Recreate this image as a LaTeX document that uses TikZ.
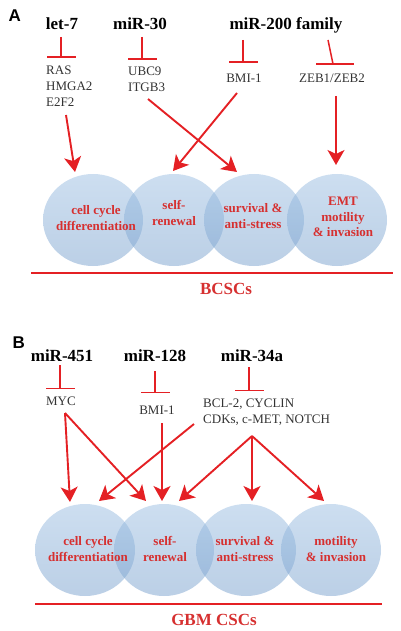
\documentclass[tikz,border=0pt]{standalone}
\usepackage{fontspec}
\setmainfont{Liberation Serif}
\newfontfamily\labfont{Liberation Sans}
\usetikzlibrary{arrows.meta,shapes.geometric}
\definecolor{ared}{RGB}{228,32,36}
\definecolor{tred}{RGB}{214,48,48}
\definecolor{ctop}{RGB}{155,190,226}
\definecolor{cbot}{RGB}{120,160,205}
\tikzset{
  panel/.style={font=\labfont\bfseries\fontsize{17}{17}\selectfont, anchor=base west},
  mir/.style={font=\bfseries\fontsize{17}{17}\selectfont, anchor=base},
  tgt/.style={font=\fontsize{13}{16}\selectfont, text=black!80, anchor=base, inner sep=0pt},
  tgtl/.style={tgt, anchor=base west, align=left},
  cell/.style={ellipse, top color=ctop, bottom color=cbot, fill opacity=0.5, draw=none, minimum width=100pt, minimum height=92pt, inner sep=0pt},
  clab/.style={font=\bfseries\fontsize{13}{15.5}\selectfont, text=tred, align=center},
  inh/.style={draw=ared, line width=1.5pt, -{Bar[width=29pt,line width=1.5pt]}},
  inhline/.style={draw=ared, line width=1.5pt},
  act/.style={draw=ared, line width=1.9pt, -{Stealth[length=15pt,width=17pt,inset=4pt]}},
  base/.style={draw=ared, line width=2pt},
  grp/.style={font=\bfseries\fontsize{17}{17}\selectfont, text=tred, anchor=base},
}
\begin{document}
\begin{tikzpicture}[x=1pt,y=-1pt]
\useasboundingbox (0,0) rectangle (400,631);
% ---------------- Panel A ----------------
\node[panel] (pA) at (5,22) {A};
\node[mir] (let7) at (62,30) {let-7};
\node[mir] (mir30) at (140,30) {miR-30};
\node[mir] (mir200) at (286,30) {miR-200 family};
\node[tgtl] (t1) at (46,107) {RAS\\HMGA2\\E2F2};
\node[tgtl] (t2) at (128,92) {UBC9\\ITGB3};
\node[tgt] (t3) at (244,83) {BMI-1};
\node[tgt] (t4) at (332,83) {ZEB1/ZEB2};
% inhibition
\coordinate (i1a) at (61,37); \coordinate (i1b) at (61,58);
\coordinate (i2a) at (142,37); \coordinate (i2b) at (142,60);
\coordinate (i3a) at (243,40); \coordinate (i3b) at (243,63);
\coordinate (i4a) at (328,40); \coordinate (i4b) at (333,64);
\coordinate (i4l) at (316,64); \coordinate (i4r) at (354,64);
\draw[inh] (i1a) -- (i1b);
\draw[inh] (i2a) -- (i2b);
\draw[inh] (i3a) -- (i3b);
\draw[inhline] (i4a) -- (i4b);
\draw[inhline] (i4l) -- (i4r);
% circles
\node[cell] (a1) at (93,220) {};
\node[cell] (a2) at (174,220) {};
\node[cell] (a3) at (254,220) {};
\node[cell] (a4) at (337,220) {};
\node[clab] (la1) at (96,218) {cell cycle\\differentiation};
\node[clab] (la2) at (174,213) {self-\\renewal};
\node[clab] (la3) at (253,216) {survival \&\\anti-stress};
\node[clab] (la4) at (343,217) {EMT\\motility\\\& invasion};
% activation arrows
\coordinate (s1) at (66,115); \coordinate (e1) at (75,172);
\coordinate (s2) at (148,99); \coordinate (e2) at (237,172);
\coordinate (s3) at (237,93); \coordinate (e3) at (173,171);
\coordinate (s4) at (336,96); \coordinate (e4) at (336,165);
\draw[act] (s1) -- (e1);
\draw[act] (s2) -- (e2);
\draw[act] (s3) -- (e3);
\draw[act] (s4) -- (e4);
\coordinate (bl1) at (31,273); \coordinate (br1) at (393,273);
\draw[base] (bl1) -- (br1);
\node[grp] (bcsc) at (226,294) {BCSCs};
% ---------------- Panel B ----------------
\node[panel] (pB) at (9,348) {B};
\node[mir] (mir451) at (62,361) {miR-451};
\node[mir] (mir128) at (155,361) {miR-128};
\node[mir] (mir34) at (252,361) {miR-34a};
\node[tgt] (myc) at (61,405) {MYC};
\node[tgt] (bmi) at (157,414) {BMI-1};
\node[tgtl] (bcl) at (203,423) {BCL-2, CYCLIN\\CDKs, c-MET, NOTCH};
\coordinate (j1a) at (60,365); \coordinate (j1b) at (60,389);
\coordinate (j2a) at (155,371); \coordinate (j2b) at (155,393);
\coordinate (j3a) at (249,367); \coordinate (j3b) at (249,391);
\draw[inh] (j1a) -- (j1b);
\draw[inh] (j2a) -- (j2b);
\draw[inh] (j3a) -- (j3b);
% circles
\node[cell] (b1) at (85,550) {};
\node[cell] (b2) at (164,550) {};
\node[cell] (b3) at (246,550) {};
\node[cell] (b4) at (331,550) {};
\node[clab] (lb1) at (88,549) {cell cycle\\differentiation};
\node[clab] (lb2) at (165,549) {self-\\renewal};
\node[clab] (lb3) at (245,549) {survival \&\\anti-stress};
\node[clab] (lb4) at (336,549) {motility\\\& invasion};
% arrows
\coordinate (myca) at (65,413);
\coordinate (f1) at (70,502); \coordinate (f2) at (146,501);
\coordinate (bmia) at (162,423); \coordinate (f3) at (162,501);
\coordinate (cdka) at (194,424); \coordinate (f4) at (99,501);
\coordinate (bcla) at (252,436);
\coordinate (f5) at (179,501); \coordinate (f6) at (252,501); \coordinate (f7) at (324,501);
\draw[act] (myca) -- (f1);
\draw[act] (myca) -- (f2);
\draw[act] (bmia) -- (f3);
\draw[act] (cdka) -- (f4);
\draw[act] (bcla) -- (f5);
\draw[act] (bcla) -- (f6);
\draw[act] (bcla) -- (f7);
\coordinate (bl2) at (35,604); \coordinate (br2) at (382,604);
\draw[base] (bl2) -- (br2);
\node[grp] (gbm) at (214,625) {GBM CSCs};
\end{tikzpicture}
\end{document}
